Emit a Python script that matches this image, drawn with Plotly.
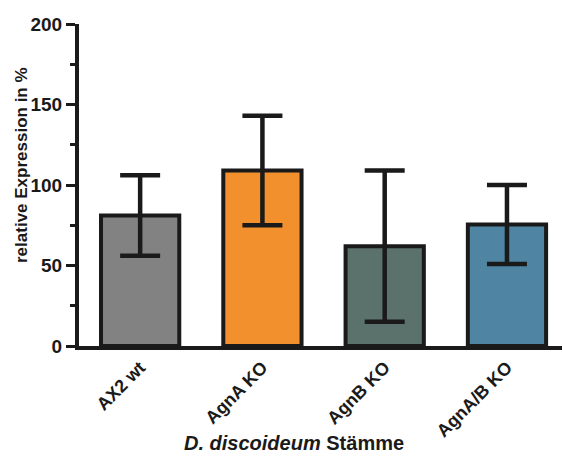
import plotly.graph_objects as go

categories = ["AX2 wt", "AgnA KO", "AgnB KO", "AgnA/B KO"]
means = [81, 109, 62, 75.5]
errors = [25, 34, 47, 24.5]
colors = ["#828282", "#f3902e", "#5b716c", "#4f84a2"]

W, H = 563, 462
L, R, T, B = 79, 1, 24, 116
dark = "#1a1a1a"
font = "Liberation Sans"

fig = go.Figure(go.Bar(
    x=list(range(len(categories))), y=means,
    width=0.64,
    marker=dict(color=colors, line=dict(color=dark, width=4)),
    error_y=dict(type="data", array=errors, visible=True, color=dark, thickness=4.5, width=20),
    hoverinfo="skip",
))

fig.update_layout(
    width=W, height=H, margin=dict(l=L, r=R, t=T, b=B, autoexpand=False),
    plot_bgcolor="white", paper_bgcolor="white", showlegend=False,
    font=dict(family=font, color=dark),
    xaxis=dict(
        range=[-0.5, 3.45], tickmode="array", tickvals=list(range(len(categories))),
        ticktext=categories, tickangle=-45, showgrid=False, zeroline=False,
        showline=True, linecolor=dark, linewidth=4, ticks="", automargin=False,
        tickfont=dict(size=18, family=font, weight="bold", color=dark),
    ),
    yaxis=dict(
        range=[0, 200], tickvals=[0, 50, 100, 150, 200], showgrid=False, zeroline=False,
        showline=True, linecolor=dark, linewidth=4, ticks="outside", ticklen=9,
        tickwidth=3, tickcolor=dark, automargin=False,
        minor=dict(tickvals=[25, 75, 125, 175], ticks="outside", ticklen=5, tickwidth=3, tickcolor=dark),
        tickfont=dict(size=19, family=font, weight="bold", color=dark),
    ),
    annotations=[
        dict(text="relative Expression in %", textangle=-90, xref="paper", yref="paper",
             x=(21 - L) / (W - L - R), y=(H - B - 165) / (H - T - B),
             xanchor="center", yanchor="middle", showarrow=False,
             font=dict(size=17, family=font, weight="bold", color=dark)),
        dict(text="<i>D. discoideum</i> Stämme", xref="paper", yref="paper",
             x=(294 - L) / (W - L - R), y=-(443 - (H - B)) / (H - T - B),
             xanchor="center", yanchor="middle",
             showarrow=False, font=dict(size=20, family=font, weight="bold", color=dark)),
    ],
)

fig.write_html("out.html", config={"displayModeBar": False},
               post_script="document.body.style.margin='0';document.body.style.overflow='hidden';")
